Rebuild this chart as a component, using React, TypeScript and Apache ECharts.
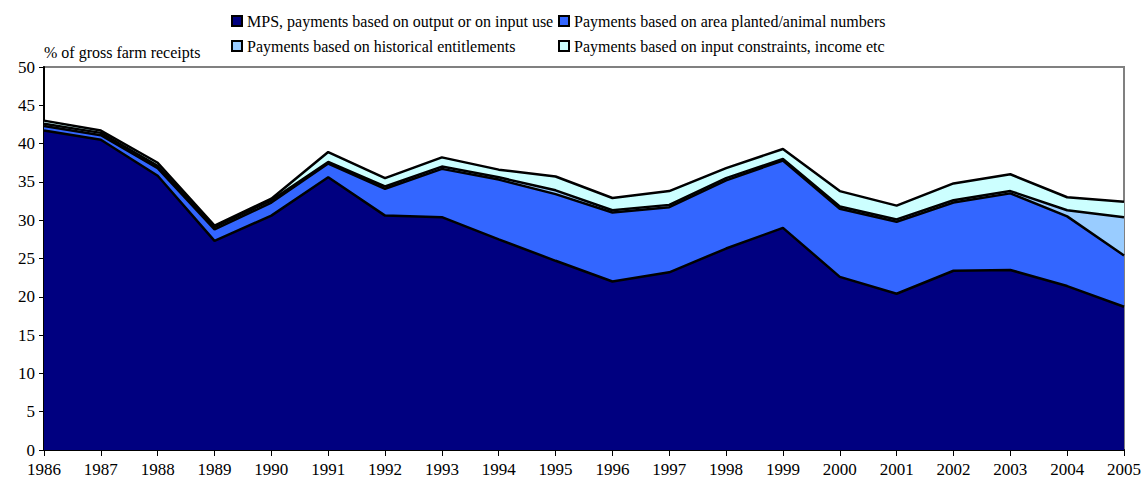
import React, { useEffect, useRef } from "react";
import * as echarts from "echarts";

const years = ["1986","1987","1988","1989","1990","1991","1992","1993","1994","1995","1996","1997","1998","1999","2000","2001","2002","2003","2004","2005"];
const mps = [41.7, 40.5, 35.8, 27.3, 30.6, 35.6, 30.6, 30.4, 27.5, 24.7, 22.0, 23.2, 26.3, 29.0, 22.6, 20.4, 23.4, 23.5, 21.4, 18.7];
const areaPlanted = [0.6, 0.6, 1.0, 1.5, 1.7, 1.8, 3.5, 6.3, 7.8, 8.7, 9.0, 8.5, 8.9, 8.8, 8.9, 9.4, 8.9, 10.0, 9.1, 6.7];
const historical = [0.3, 0.3, 0.3, 0.3, 0.3, 0.2, 0.3, 0.3, 0.3, 0.5, 0.3, 0.3, 0.3, 0.2, 0.3, 0.3, 0.3, 0.3, 0.8, 5.0];
const inputConstraints = [0.4, 0.3, 0.4, 0.2, 0.2, 1.3, 1.1, 1.2, 1.0, 1.8, 1.6, 1.8, 1.3, 1.3, 2.0, 1.8, 2.2, 2.2, 1.7, 2.0];

const names = [
  "MPS, payments based on output or on input use",
  "Payments based on area planted/animal numbers",
  "Payments based on historical entitlements",
  "Payments based on input constraints, income etc",
];
const colors = ["#000080", "#3366FF", "#99CCFF", "#CCFFFF"];
const values = [mps, areaPlanted, historical, inputConstraints];

const FONT = "serif";

export default function App() {
  const ref = useRef<HTMLDivElement>(null);
  useEffect(() => {
    if (!ref.current) return;
    const chart = echarts.init(ref.current, undefined, { renderer: "svg" });
    const legendText = { fontFamily: FONT, fontSize: 16, color: "#000" };
    chart.setOption({
      animation: false,
      backgroundColor: "#fff",
      textStyle: { fontFamily: FONT },
      grid: {
        left: 44, right: 24, top: 67, bottom: 37,
        show: true, borderColor: "#808080", borderWidth: 2, backgroundColor: "transparent",
      },
      legend: [
        {
          data: [names[0], names[2]],
          orient: "vertical", left: 226, top: 8, itemGap: 9,
          itemWidth: 10, itemHeight: 10, textStyle: legendText,
          icon: "rect", selectedMode: false,
          itemStyle: { borderColor: "#000", borderWidth: 2 },
        },
        {
          data: [names[1], names[3]],
          orient: "vertical", left: 553, top: 8, itemGap: 9,
          itemWidth: 10, itemHeight: 10, textStyle: legendText,
          icon: "rect", selectedMode: false,
          itemStyle: { borderColor: "#000", borderWidth: 2 },
        },
      ],
      graphic: [
        {
          type: "text", left: 44, top: 44,
          style: { text: "% of gross farm receipts", fontFamily: FONT, fontSize: 16, fill: "#000" },
        },
      ],
      xAxis: {
        type: "category", data: years, boundaryGap: false,
        axisLine: { lineStyle: { color: "#000", width: 2 } },
        axisTick: { show: true, interval: 0, length: 6, lineStyle: { color: "#000" } },
        axisLabel: { interval: 0, fontFamily: FONT, fontSize: 17, color: "#000", margin: 11 },
        splitLine: { show: false },
      },
      yAxis: {
        type: "value", min: 0, max: 50, interval: 5,
        axisLine: { show: true, lineStyle: { color: "#000", width: 2 } },
        axisTick: { show: true, length: 5, lineStyle: { color: "#000" } },
        axisLabel: { fontFamily: FONT, fontSize: 17, color: "#000", margin: 9 },
        splitLine: { show: false },
      },
      series: values.map((v, i) => ({
        name: names[i], type: "line", stack: "total", data: v,
        symbol: "none", smooth: false,
        color: colors[i],
        lineStyle: { color: "#000", width: 2.5 },
        areaStyle: { color: colors[i], opacity: 1 },
        itemStyle: { color: colors[i], borderColor: "#000", borderWidth: 2 },
      })),
    });
    return () => chart.dispose();
  }, []);
  return <div ref={ref} style={{ width: 1148, height: 487, position: "absolute", left: 0, top: 0 }} />;
}
